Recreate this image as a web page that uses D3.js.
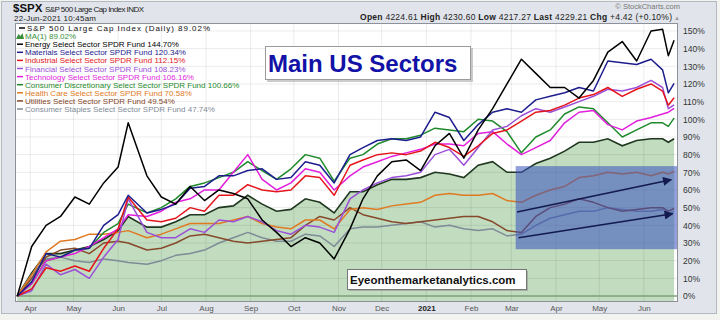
<!DOCTYPE html>
<html>
<head>
<meta charset="utf-8">
<title>Main US Sectors</title>
<script src="https://cdn.jsdelivr.net/npm/d3@7"></script>
<style>
  body { margin: 0; background: #f3f3f0; }
  svg { display: block; font-family: Arial, 'Liberation Sans', sans-serif; }
</style>
</head>
<body>
<div id="wrapper"></div>
<script>
// % change since 23-Mar-2020
const dates = [
  '2020-03-23', '2020-04-02', '2020-04-12', '2020-04-22', '2020-05-02', '2020-05-12', '2020-05-22', '2020-06-01',
  '2020-06-08', '2020-06-21', '2020-07-01', '2020-07-11', '2020-07-21', '2020-07-31', '2020-08-10', '2020-08-20',
  '2020-08-30', '2020-09-09', '2020-09-19', '2020-09-29', '2020-10-09', '2020-10-19', '2020-10-29', '2020-11-09',
  '2020-11-18', '2020-11-28', '2020-12-08', '2020-12-18', '2020-12-28', '2021-01-07', '2021-01-17', '2021-01-27',
  '2021-02-06', '2021-02-16', '2021-02-26', '2021-03-08', '2021-03-18', '2021-03-28', '2021-04-07', '2021-04-17',
  '2021-04-27', '2021-05-07', '2021-05-17', '2021-05-27', '2021-06-06', '2021-06-14', '2021-06-18', '2021-06-22',
];

const spxValues = [0, 13, 24, 24, 26, 28, 32, 37, 45, 39, 39, 42, 46, 46, 50, 51, 57, 52, 48, 49, 55, 53, 47, 59,
  59, 63, 66, 66, 67, 70, 69, 67, 74, 76, 70, 70, 75, 78, 82, 87, 87, 89, 85, 88, 89, 89, 87, 89.02];
const energyValues = [0, 28, 40, 45, 56, 52, 64, 73, 98, 68, 56, 52, 62, 54, 60, 58, 55, 43, 36, 28, 33, 30, 21, 38,
  55, 68, 76, 77, 71, 85, 92, 78, 94, 106, 120, 134, 126, 118, 118, 112, 122, 138, 144, 133, 150, 151, 136, 144.7];
const materialsValues = [0, 8, 24, 22, 26, 27, 40, 46, 57, 47, 49, 52, 61, 62, 68, 68, 71, 72, 66, 67, 76, 74, 64, 80,
  84, 88, 89, 88, 90, 104, 101, 88, 97, 104, 106, 104, 111, 113, 115, 118, 116, 133, 132, 131, 134, 128, 115, 120.34];
const industrialValues = [0, 4, 16, 14, 17, 14, 27, 38, 56, 43, 42, 44, 50, 48, 57, 57, 63, 60, 59, 60, 68, 67, 57, 74,
  77, 80, 81, 80, 82, 87, 84, 79, 85, 92, 94, 99, 104, 105, 108, 112, 114, 118, 113, 117, 120, 116, 108, 112.15];
const financialValues = [0, 3, 18, 12, 15, 10, 22, 32, 55, 36, 33, 33, 38, 36, 43, 42, 45, 42, 37, 35, 40, 39, 36, 55,
  60, 64, 67, 68, 70, 80, 83, 74, 84, 94, 96, 102, 106, 104, 107, 110, 113, 117, 116, 118, 122, 118, 106, 108.23];
const technologyValues = [0, 7, 20, 22, 24, 28, 33, 38, 46, 45, 48, 53, 55, 60, 60, 70, 80, 66, 60, 64, 72, 70, 60, 68,
  73, 76, 79, 81, 83, 86, 86, 85, 92, 93, 86, 80, 84, 88, 98, 104, 105, 97, 94, 99, 101, 103, 104, 106.16];
const discretionaryValues = [0, 7, 20, 22, 26, 27, 36, 41, 52, 47, 50, 55, 62, 64, 67, 70, 76, 71, 66, 72, 80, 78, 65, 78,
  80, 86, 89, 89, 91, 95, 94, 93, 100, 99, 93, 81, 90, 94, 103, 107, 106, 98, 90, 94, 98, 98, 96, 100.66];
const healthValues = [0, 12, 25, 31, 32, 35, 35, 36, 37, 33, 35, 38, 41, 41, 41, 43, 45, 41, 39, 38, 43, 43, 38, 49,
  50, 49, 51, 52, 53, 57, 58, 57, 57, 58, 54, 53, 57, 60, 62, 67, 68, 70, 69, 70, 68, 70, 69, 70.58];
const utilitiesValues = [0, 10, 22, 26, 27, 24, 30, 31, 30, 26, 27, 30, 34, 35, 33, 31, 30, 31, 32, 33, 40, 45, 43, 50,
  46, 44, 42, 41, 42, 43, 44, 45, 45, 42, 37, 36, 45, 50, 52, 55, 53, 50, 48, 49, 50, 50, 48, 49.54];
const staplesValues = [0, 12, 21, 22, 20, 19, 21, 20, 19, 18, 20, 23, 24, 26, 30, 33, 36, 33, 31, 31, 35, 34, 28, 38,
  39, 39, 40, 41, 42, 39, 40, 38, 37, 38, 34, 35, 40, 44, 46, 48, 48, 50, 49, 48, 48, 49, 47, 47.74];

const spxName = 'S&P 500 Large Cap Index (Daily)';
const spxChange = 89.02;
const sectorNames = [
  'Energy Select Sector SPDR Fund',
  'Materials Select Sector SPDR Fund',
  'Industrial Select Sector SPDR Fund',
  'Financial Select Sector SPDR Fund',
  'Technology Select Sector SPDR Fund',
  'Consumer Discretionary Select Sector SPDR Fund',
  'Health Care Select Sector SPDR Fund',
  'Utilities Select Sector SPDR Fund',
  'Consumer Staples Select Sector SPDR Fund',
];
const sectorChange = [144.7, 120.34, 112.15, 108.23, 106.16, 100.66, 70.58, 49.54, 47.74];
const sectorValues = [energyValues, materialsValues, industrialValues, financialValues, technologyValues,
  discretionaryValues, healthValues, utilitiesValues, staplesValues];
const sectorColors = ['#000000', '#1d1d8e', '#e4161b', '#9b4fd8', '#e21fdc', '#1f8a2c', '#e07a22', '#86492a', '#7f8b97'];

const yTicks = [0, 10, 20, 30, 40, 50, 60, 70, 80, 90, 100, 110, 120, 130, 140, 150];
const monthTicks = ['2020-04-01', '2020-05-01', '2020-06-01', '2020-07-01', '2020-08-01', '2020-09-01', '2020-10-01',
  '2020-11-01', '2020-12-01', '2021-01-01', '2021-02-01', '2021-03-01', '2021-04-01', '2021-05-01', '2021-06-01'];
const monthLabels = ['Apr', 'May', 'Jun', 'Jul', 'Aug', 'Sep', 'Oct', 'Nov', 'Dec', '2021', 'Feb', 'Mar', 'Apr', 'May', 'Jun'];

// annotation: highlighted box and the two trend arrows
const boxDates = ['2021-03-04', '2021-06-25'];
const boxRange = [26.5, 73.5];
const arrows = [
  { from: ['2021-03-05', 47.5], to: ['2021-06-20', 65.8] },
  { from: ['2021-03-06', 33], to: ['2021-06-21', 46.5] },
];

function drawChart() {
  // 1. Access data
  const dateParser = d3.timeParse('%Y-%m-%d');
  const dateValues = dates.map(dateParser);
  const xAccessor = (d) => d.date;
  const yAccessor = (d) => d.v;

  const spxSeries = spxValues.map((v, i) => ({ date: dateValues[i], v }));
  const sectors = sectorNames.map((name, i) => ({
    name,
    change: sectorChange[i],
    color: sectorColors[i],
    values: sectorValues[i].map((v, j) => ({ date: dateValues[j], v })),
  }));

  // 2. Create chart dimensions
  let dimensions = {
    width: 720,
    height: 320,
    margin: { top: 23, right: 42, bottom: 18, left: 15 },
  };
  dimensions.innerWidth = dimensions.width - dimensions.margin.left - dimensions.margin.right;
  dimensions.innerHeight = dimensions.height - dimensions.margin.top - dimensions.margin.bottom;

  // 3. Draw canvas
  const wrapper = d3
    .select('#wrapper')
    .append('svg')
    .attr('width', dimensions.width)
    .attr('height', dimensions.height);

  wrapper
    .append('rect')
    .attr('x', 1.5)
    .attr('y', 1.5)
    .attr('width', 715)
    .attr('height', 312)
    .attr('fill', '#e1e5eb')
    .attr('stroke', '#b3b9c2');

  const defs = wrapper.append('defs');
  defs
    .append('clipPath')
    .attr('id', 'plot-clip')
    .append('rect')
    .attr('width', dimensions.innerWidth)
    .attr('height', dimensions.innerHeight);
  defs
    .append('marker')
    .attr('id', 'arrowhead')
    .attr('viewBox', '0 0 10 10')
    .attr('refX', 9)
    .attr('refY', 5)
    .attr('markerWidth', 12)
    .attr('markerHeight', 9)
    .attr('markerUnits', 'userSpaceOnUse')
    .attr('orient', 'auto')
    .append('path')
    .attr('d', 'M0,0 L10,5 L0,10 z')
    .attr('fill', '#131a4e');

  const bounds = wrapper
    .append('g')
    .attr('transform', `translate(${dimensions.margin.left},${dimensions.margin.top})`);

  bounds
    .append('rect')
    .attr('width', dimensions.innerWidth)
    .attr('height', dimensions.innerHeight)
    .attr('fill', '#ffffff');

  // 4. Create scales
  const xScale = d3
    .scaleTime()
    .domain([new Date(2020, 2, 21, 10), new Date(2021, 5, 24, 17)])
    .range([0, dimensions.innerWidth]);

  const yScale = d3.scaleLinear().domain([-3.4, 154.5]).range([dimensions.innerHeight, 0]);

  const monthDates = monthTicks.map(dateParser);

  // 5. Draw data
  const plot = bounds.append('g').attr('clip-path', 'url(#plot-clip)');

  const areaGenerator = d3
    .area()
    .x((d) => xScale(xAccessor(d)))
    .y0(dimensions.innerHeight)
    .y1((d) => yScale(yAccessor(d)));

  plot.append('path').datum(spxSeries).attr('d', areaGenerator).attr('fill', '#c1dcbf');

  // grid on top of the fill
  plot
    .append('g')
    .selectAll('line')
    .data(yTicks)
    .join('line')
    .attr('x1', 0)
    .attr('x2', dimensions.innerWidth)
    .attr('y1', (d) => yScale(d))
    .attr('y2', (d) => yScale(d))
    .attr('stroke', '#000')
    .attr('stroke-opacity', 0.08);

  plot
    .append('g')
    .selectAll('line')
    .data(monthDates)
    .join('line')
    .attr('x1', (d) => xScale(d))
    .attr('x2', (d) => xScale(d))
    .attr('y1', 0)
    .attr('y2', dimensions.innerHeight)
    .attr('stroke', '#000')
    .attr('stroke-opacity', 0.08);

  plot
    .append('line')
    .attr('x1', 0)
    .attr('x2', dimensions.innerWidth)
    .attr('y1', yScale(0))
    .attr('y2', yScale(0))
    .attr('stroke', '#7ea57b')
    .attr('stroke-width', 1.5);

  const lineGenerator = d3
    .line()
    .x((d) => xScale(xAccessor(d)))
    .y((d) => yScale(yAccessor(d)));

  plot
    .append('path')
    .datum(spxSeries)
    .attr('d', lineGenerator)
    .attr('fill', 'none')
    .attr('stroke', '#1f361f')
    .attr('stroke-width', 1.6);

  plot
    .append('g')
    .selectAll('path')
    .data(sectors.slice().reverse())
    .join('path')
    .attr('d', (d) => lineGenerator(d.values))
    .attr('fill', 'none')
    .attr('stroke', (d) => d.color)
    .attr('stroke-width', 1.5)
    .attr('stroke-linejoin', 'round');

  // highlighted box + arrows
  plot
    .append('rect')
    .attr('x', xScale(dateParser(boxDates[0])))
    .attr('y', yScale(boxRange[1]))
    .attr('width', xScale(dateParser(boxDates[1])) - xScale(dateParser(boxDates[0])))
    .attr('height', yScale(boxRange[0]) - yScale(boxRange[1]))
    .attr('fill', '#3750be')
    .attr('fill-opacity', 0.55);

  plot
    .append('g')
    .selectAll('line')
    .data(arrows)
    .join('line')
    .attr('x1', (d) => xScale(dateParser(d.from[0])))
    .attr('y1', (d) => yScale(d.from[1]))
    .attr('x2', (d) => xScale(dateParser(d.to[0])))
    .attr('y2', (d) => yScale(d.to[1]))
    .attr('stroke', '#131a4e')
    .attr('stroke-width', 1.6)
    .attr('marker-end', 'url(#arrowhead)');

  bounds
    .append('rect')
    .attr('x', 0.5)
    .attr('y', 0.5)
    .attr('width', dimensions.innerWidth - 1)
    .attr('height', dimensions.innerHeight - 1)
    .attr('fill', 'none')
    .attr('stroke', '#8d9199');

  // 6. Draw peripherals
  const yAxisGenerator = d3
    .axisRight(yScale)
    .tickValues(yTicks)
    .tickFormat((d) => d + '%')
    .tickSize(0)
    .tickPadding(5);

  const yAxis = bounds
    .append('g')
    .attr('transform', `translate(${dimensions.innerWidth},0)`)
    .call(yAxisGenerator);
  yAxis.select('.domain').remove();
  yAxis
    .selectAll('text')
    .attr('font-size', 8.5)
    .attr('font-family', 'Arial, Liberation Sans, sans-serif')
    .attr('fill', '#333');

  const xAxisGenerator = d3
    .axisBottom(xScale)
    .tickValues(monthDates)
    .tickFormat((d, i) => monthLabels[i])
    .tickSize(0)
    .tickPadding(3.5);

  const xAxis = bounds
    .append('g')
    .attr('transform', `translate(0,${dimensions.innerHeight})`)
    .call(xAxisGenerator);
  xAxis.select('.domain').remove();
  xAxis
    .selectAll('text')
    .attr('font-size', 8)
    .attr('font-family', 'Arial, Liberation Sans, sans-serif')
    .attr('fill', (d, i) => (monthLabels[i] === '2021' ? '#222' : '#555'))
    .attr('font-weight', (d, i) => (monthLabels[i] === '2021' ? 'bold' : 'normal'));

  // legend
  const legend = wrapper.append('g').attr('font-size', 8);
  const rowY = (i) => 31 + i * 8.1;

  legend.append('line').attr('x1', 19).attr('x2', 25).attr('y1', rowY(0) - 3).attr('y2', rowY(0) - 3)
    .attr('stroke', '#000').attr('stroke-width', 1.5);
  legend.append('text').attr('x', 27).attr('y', rowY(0)).attr('fill', '#111')
    .attr('textLength', 183).attr('lengthAdjust', 'spacing')
    .text(`${spxName} ${spxChange.toFixed(2)}%`);

  legend.append('path')
    .attr('d', `M16,${rowY(1)} L18.5,${rowY(1) - 5} L20.5,${rowY(1) - 3} L22.5,${rowY(1) - 6} L24,${rowY(1)} Z`)
    .attr('fill', '#3e8f3e');
  legend.append('text').attr('x', 25).attr('y', rowY(1)).attr('fill', '#3a8f3a')
    .text(`MA(1) ${spxChange.toFixed(2)}%`);

  const rows = legend
    .selectAll('g.row')
    .data(sectors)
    .join('g')
    .attr('class', 'row');
  rows
    .append('line')
    .attr('x1', 17)
    .attr('x2', 23)
    .attr('y1', (d, i) => rowY(i + 2) - 3)
    .attr('y2', (d, i) => rowY(i + 2) - 3)
    .attr('stroke', (d) => d.color)
    .attr('stroke-width', 1.5);
  rows
    .append('text')
    .attr('x', 25)
    .attr('y', (d, i) => rowY(i + 2))
    .attr('fill', (d) => d.color)
    .text((d) => `${d.name} ${d.change.toFixed(2)}%`);

  // header
  wrapper.append('text').attr('x', 13).attr('y', 12).attr('font-size', 11.5).attr('font-weight', 'bold')
    .attr('fill', '#111').text('$SPX');
  wrapper.append('text').attr('x', 45).attr('y', 12).attr('font-size', 8).attr('fill', '#222')
    .attr('textLength', 99).attr('lengthAdjust', 'spacing').text('S&P 500 Large Cap Index INDX');
  wrapper.append('text').attr('x', 14).attr('y', 20.5).attr('font-size', 8).attr('fill', '#222')
    .attr('textLength', 82).attr('lengthAdjust', 'spacing').text('22-Jun-2021 10:45am');

  wrapper.append('text').attr('x', 680).attr('y', 9).attr('text-anchor', 'end').attr('font-size', 7.5)
    .attr('fill', '#777').text('© StockCharts.com');

  const quote = wrapper.append('text').attr('x', 360).attr('y', 20).attr('font-size', 8.5).attr('fill', '#222')
    .attr('textLength', 312).attr('lengthAdjust', 'spacing').style('white-space', 'pre');
  [['Open ', true], ['4224.61 ', false], ['High ', true], ['4230.60 ', false], ['Low ', true], ['4217.27 ', false],
    ['Last ', true], ['4229.21 ', false], ['Chg ', true], ['+4.42 (+0.10%)', false]].forEach(([t, b]) => {
    quote.append('tspan').attr('font-weight', b ? 'bold' : 'normal').text(t);
  });
  wrapper.append('text').attr('x', 674).attr('y', 19.5).attr('font-size', 6).attr('fill', '#999').text('▲');

  // title box
  wrapper.append('rect').attr('x', 267).attr('y', 48).attr('width', 206).attr('height', 34)
    .attr('fill', '#999').attr('opacity', 0.5);
  wrapper.append('rect').attr('x', 265.5).attr('y', 46.5).attr('width', 205).attr('height', 33)
    .attr('fill', '#fff').attr('stroke', '#9a9a9a');
  wrapper.append('text').attr('x', 268).attr('y', 72).attr('font-size', 24).attr('font-weight', 'bold')
    .attr('fill', '#1212a6').text('Main US Sectors');

  // site box
  wrapper.append('rect').attr('x', 349).attr('y', 271).attr('width', 179).attr('height', 20)
    .attr('fill', '#888').attr('opacity', 0.5);
  wrapper.append('rect').attr('x', 347.5).attr('y', 269.5).attr('width', 179).attr('height', 20)
    .attr('fill', '#fff').attr('stroke', '#777');
  wrapper.append('text').attr('x', 350).attr('y', 284).attr('font-size', 11.5).attr('font-weight', 'bold')
    .attr('fill', '#111').text('Eyeonthemarketanalytics.com');
}

drawChart();
</script>
</body>
</html>
